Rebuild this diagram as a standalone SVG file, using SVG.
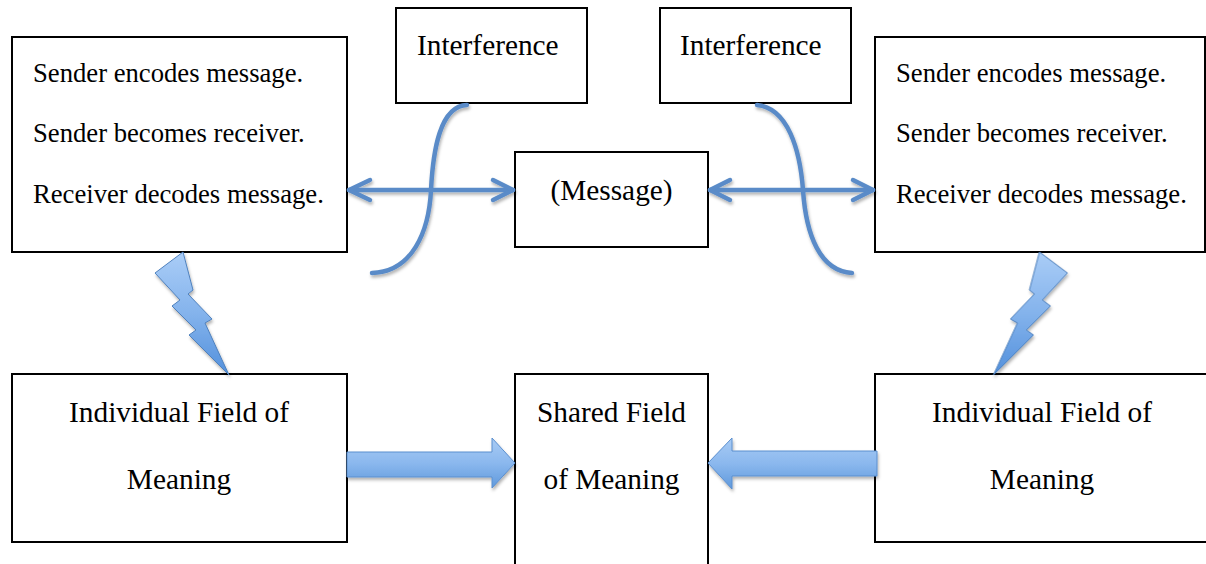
<svg xmlns="http://www.w3.org/2000/svg" width="1206" height="564" viewBox="0 0 1206 564">
  <defs>
    <style>
      .box { fill: #ffffff; stroke: #000000; stroke-width: 2; }
      .t20 { font-family: "Liberation Serif", "Times New Roman", serif; font-size: 26.67px; fill: #000000; }
      .t22 { font-family: "Liberation Serif", "Times New Roman", serif; font-size: 29.33px; fill: #000000; }
      .mid { text-anchor: middle; }
      .line { fill: none; stroke: #5a8bc8; stroke-width: 4.5; stroke-linecap: round; stroke-linejoin: round; }
      .bolt { fill: url(#boltGrad); stroke: #4f81bd; stroke-width: 1; stroke-linejoin: miter; }
      .block { fill: url(#blockGrad); stroke: #5b8fcf; stroke-width: 1; }
    </style>
    <linearGradient id="boltGrad" x1="0" y1="0" x2="0" y2="1">
      <stop offset="0" stop-color="#aacdf7"/>
      <stop offset="0.5" stop-color="#84b3ec"/>
      <stop offset="1" stop-color="#5290dc"/>
    </linearGradient>
    <linearGradient id="blockGrad" x1="0" y1="0" x2="0" y2="1">
      <stop offset="0" stop-color="#a8cbf4"/>
      <stop offset="0.5" stop-color="#8bb8ee"/>
      <stop offset="1" stop-color="#5f99dc"/>
    </linearGradient>
    <filter id="shadow" x="-20%" y="-20%" width="140%" height="160%">
      <feDropShadow dx="1" dy="2.5" stdDeviation="1.5" flood-color="#000000" flood-opacity="0.3"/>
    </filter>
  </defs>

  <rect x="0" y="0" width="1206" height="564" fill="#ffffff"/>

  <g id="sender-left">
    <rect class="box" x="12" y="37" width="335" height="215"/>
    <text class="t20" x="33" y="82">Sender encodes message.</text>
    <text class="t20" x="33" y="142">Sender becomes receiver.</text>
    <text class="t20" x="33" y="203">Receiver decodes message.</text>
  </g>

  <g id="sender-right">
    <rect class="box" x="875" y="37" width="330" height="215"/>
    <text class="t20" x="896" y="82">Sender encodes message.</text>
    <text class="t20" x="896" y="142">Sender becomes receiver.</text>
    <text class="t20" x="896" y="203">Receiver decodes message.</text>
  </g>

  <g id="interference-left">
    <rect class="box" x="396" y="8" width="191" height="95"/>
    <text class="t22" x="417" y="55">Interference</text>
  </g>

  <g id="interference-right">
    <rect class="box" x="660" y="8" width="191" height="95"/>
    <text class="t22" x="680" y="55">Interference</text>
  </g>

  <g id="message">
    <rect class="box" x="515" y="152" width="193" height="95"/>
    <text class="t22 mid" x="611.5" y="200">(Message)</text>
  </g>

  <g id="field-left">
    <rect class="box" x="12" y="374" width="335" height="168"/>
    <text class="t22 mid" x="179" y="422">Individual Field of</text>
    <text class="t22 mid" x="179" y="489">Meaning</text>
  </g>

  <g id="field-shared">
    <rect class="box" x="515" y="374" width="193" height="200"/>
    <text class="t22 mid" x="611.5" y="422">Shared Field</text>
    <text class="t22 mid" x="611.5" y="489">of Meaning</text>
  </g>

  <g id="field-right">
    <rect class="box" x="875" y="374" width="335" height="168"/>
    <text class="t22 mid" x="1042" y="422">Individual Field of</text>
    <text class="t22 mid" x="1042" y="489">Meaning</text>
  </g>

  <g id="connectors" filter="url(#shadow)">
    <path class="line" d="M467,105 C440,106 433,150 431,190 C429,232 412,272 372,273"/>
    <path class="line" d="M349,190 L513,190"/>
    <path class="line" d="M370,180 L349,190 L370,200"/>
    <path class="line" d="M493,180 L513,190 L493,200"/>
    <path class="line" d="M757,105 C788,108 800,150 803,190 C806,235 820,271 852,273"/>
    <path class="line" d="M710,190 L873,190"/>
    <path class="line" d="M730,180 L710,190 L730,200"/>
    <path class="line" d="M853,180 L873,190 L853,200"/>
    <polygon class="bolt" points="183,252 193,290 188,294 212,319 205,323 229,375 189,335 196,330 172,306 180,300 155,273"/>
    <polygon class="bolt" transform="translate(1222.5,0) scale(-1,1)" points="183,252 193,290 188,294 212,319 205,323 229,375 189,335 196,330 172,306 180,300 155,273"/>
    <polygon class="block" points="347,452 492,452 492,438 515,463 492,488 492,477 347,477"/>
    <polygon class="block" points="877,451 732,451 732,438 708,463 732,489 732,476 877,476"/>
  </g>
</svg>
